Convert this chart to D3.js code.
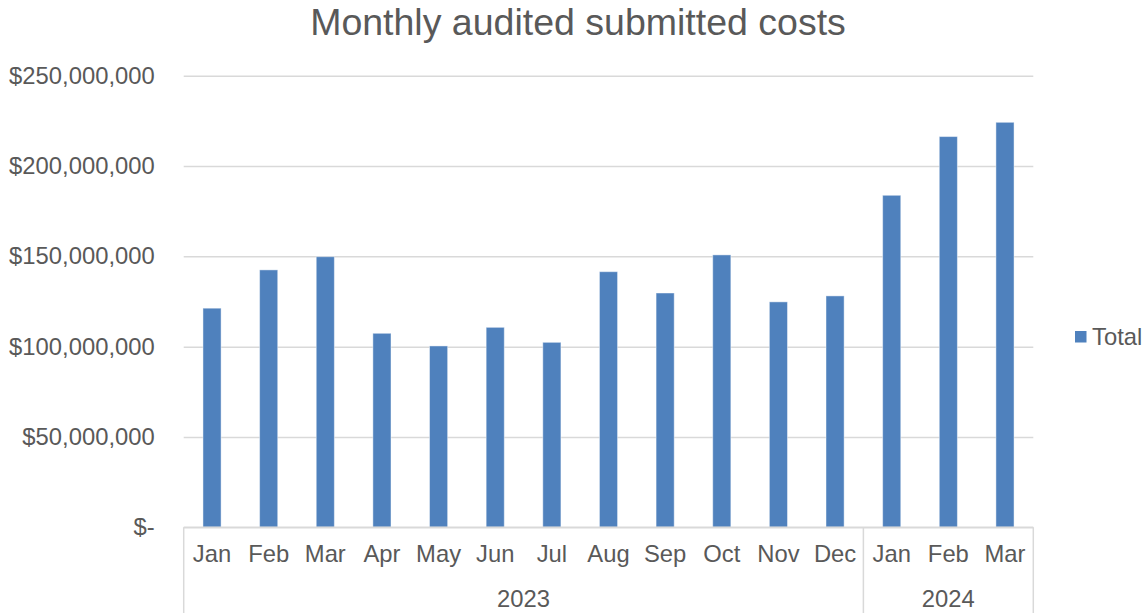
<!DOCTYPE html>
<html>
<head>
<meta charset="utf-8">
<script src="https://cdn.jsdelivr.net/npm/d3@7"></script>
<style>
  body { margin: 0; background: #fff; }
  svg text { font-family: "Liberation Sans", Arial, sans-serif; fill: #595959; }
</style>
</head>
<body>
<svg id="chart" width="1147" height="613"></svg>
<script>
// data
const months = ["Jan", "Feb", "Mar", "Apr", "May", "Jun", "Jul", "Aug", "Sep", "Oct", "Nov", "Dec", "Jan", "Feb", "Mar"];
const years  = ["2023", "2023", "2023", "2023", "2023", "2023", "2023", "2023", "2023", "2023", "2023", "2023", "2024", "2024", "2024"];
const totals = [121300000, 142500000, 149800000, 107400000, 100400000, 110700000, 102400000, 141500000,
                129700000, 150800000, 124800000, 128100000, 183800000, 216300000, 224200000];
const yTicks = [0, 50000000, 100000000, 150000000, 200000000, 250000000];
const yearGroups = ["2023", "2024"];

let chart = d3.select("#chart");
let plotLeft = 183.7, plotRight = 1033.3, plotTop = 75.7, plotBottom = 527.3;

let keys = months.map(function(m, i) { return years[i] + "-" + m; });
let data = keys.map(function(k, i) { return {key: k, month: months[i], year: years[i], total: totals[i]}; });

// x position scale
let x = d3.scaleBand()
    .domain(keys)
    .range([plotLeft, plotRight])
    .paddingInner(0.68)
    .paddingOuter(0.34);

// y position scale
let y = d3.scaleLinear()
    .domain([0, 250000000])
    .range([plotBottom, plotTop]);

// title
chart.append("text")
    .text("Monthly audited submitted costs")
    .attr("x", 578)
    .attr("y", 35)
    .style("font-size", "37.5px")
    .style("text-anchor", "middle");

// y axis with gridlines
let yAxis = d3.axisLeft(y)
    .tickValues(yTicks)
    .tickSize(-(plotRight - plotLeft))
    .tickPadding(29)
    .tickFormat(function(d) { return d === 0 ? "$-" : "$" + d3.format(",")(d); });
let yAxisGroup = chart.append("g")
    .attr("transform", "translate(" + plotLeft + ",0)")
    .call(yAxis);
yAxisGroup.select(".domain").remove();
yAxisGroup.selectAll(".tick line").attr("stroke", "#d9d9d9").attr("stroke-width", 1.5);
yAxisGroup.selectAll(".tick text").style("font-size", "23.8px").attr("fill", "#595959");

// bars
chart.selectAll("rect.bar")
    .data(data).enter()
    .append("rect")
    .attr("class", "bar")
    .attr("x", function(d) { return x(d.key); })
    .attr("y", function(d) { return y(d.total); })
    .attr("width", x.bandwidth())
    .attr("height", function(d) { return plotBottom - y(d.total); })
    .attr("fill", "#4f81bd")
    .attr("stroke", "rgba(255,255,255,0.45)")
    .attr("stroke-width", 1);

// x axis (months)
let xAxis = d3.axisBottom(x)
    .tickSize(0)
    .tickPadding(18)
    .tickFormat(function(d) { return d.split("-")[1]; });
let xAxisGroup = chart.append("g")
    .attr("transform", "translate(0," + plotBottom + ")")
    .call(xAxis);
xAxisGroup.select(".domain").remove();
xAxisGroup.selectAll(".tick text").style("font-size", "23.8px").attr("fill", "#595959");

chart.append("line")
    .attr("x1", plotLeft).attr("x2", plotRight)
    .attr("y1", plotBottom).attr("y2", plotBottom)
    .attr("stroke", "#d9d9d9").attr("stroke-width", 1.5);

// year group separators and labels
let step = x.step();
let groupBounds = yearGroups.map(function(yr) {
    let idx = years.map(function(v, i) { return v === yr ? i : -1; }).filter(function(i) { return i >= 0; });
    let x0 = x(keys[idx[0]]) - x.paddingInner() * step / 2;
    let x1 = x(keys[idx[idx.length - 1]]) + x.bandwidth() + x.paddingInner() * step / 2;
    return {year: yr, x0: x0, x1: x1};
});

let seps = [plotLeft].concat(groupBounds.map(function(g) { return g.x1; }));
chart.selectAll("line.sep")
    .data(seps).enter()
    .append("line")
    .attr("class", "sep")
    .attr("x1", function(d) { return d; })
    .attr("x2", function(d) { return d; })
    .attr("y1", plotBottom)
    .attr("y2", 613)
    .attr("stroke", "#d9d9d9")
    .attr("stroke-width", 1.5);

chart.selectAll("text.year")
    .data(groupBounds).enter()
    .append("text")
    .attr("class", "year")
    .attr("x", function(d) { return (d.x0 + d.x1) / 2; })
    .attr("y", 607)
    .style("font-size", "23.8px")
    .style("text-anchor", "middle")
    .text(function(d) { return d.year; });

// legend
chart.append("rect")
    .attr("x", 1075)
    .attr("y", 331)
    .attr("width", 11.5)
    .attr("height", 11.5)
    .attr("fill", "#4f81bd");
chart.append("text")
    .attr("x", 1092)
    .attr("y", 345)
    .style("font-size", "23.8px")
    .text("Total");
</script>
</body>
</html>
